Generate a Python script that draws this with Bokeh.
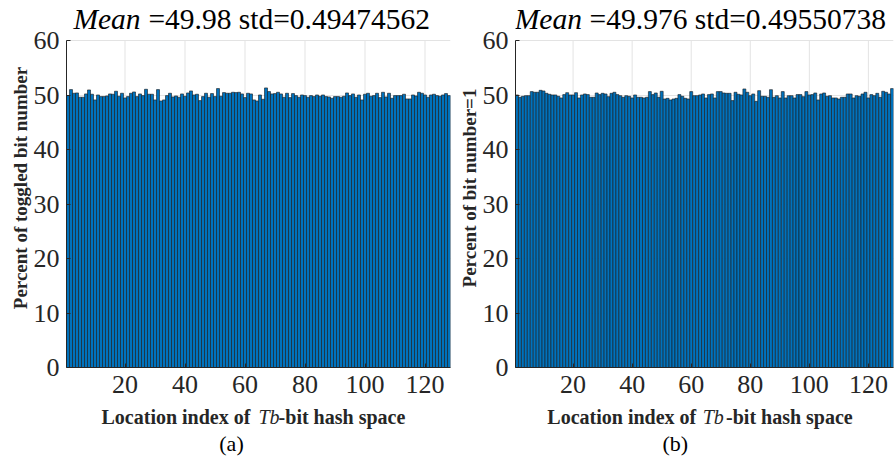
from bokeh.plotting import figure
from bokeh.layouts import row, column
from bokeh.models import Label, FixedTicker, Range1d
from bokeh.embed import file_html
from bokeh.resources import INLINE

# ---------------- data ----------------
location_index = list(range(1, 129))

toggled_pct_a = [
    49.89, 50.99, 50.32, 50.38, 49.59, 49.59, 50.20, 50.93, 50.14, 49.10,
    50.01, 49.71, 49.71, 49.83, 50.20, 50.14, 50.69, 49.77, 50.32, 49.46,
    49.71, 50.32, 50.56, 49.71, 50.20, 49.89, 51.05, 50.14, 50.14, 49.10,
    50.99, 48.91, 49.10, 49.89, 50.32, 49.65, 49.83, 49.59, 50.20, 49.77,
    50.38, 50.75,
    50.01, 50.14, 48.97, 49.71, 50.32, 49.59, 50.26, 49.71, 51.18, 49.77,
    50.44, 50.32, 50.32, 50.50, 50.44, 50.50, 50.20, 49.52, 50.32, 50.20,
    49.10, 48.91, 50.01, 49.22, 51.30, 50.63, 50.20, 50.26, 50.50, 50.20,
    49.59, 50.32, 49.52, 50.26, 49.89, 49.59, 50.01, 49.89, 49.59,
    49.89, 49.71, 50.01, 49.77,
    50.01, 49.71, 49.65, 49.40, 49.71, 49.71, 49.59, 49.77, 50.38, 49.89,
    50.20, 49.59, 50.01, 49.10, 50.14, 50.32, 49.77, 49.89, 50.32, 49.52,
    50.50, 49.65, 50.32, 49.40, 49.89, 49.89, 49.89, 50.14, 49.28, 49.28,
    50.01, 49.83, 50.50, 50.32, 50.01, 49.59, 50.01, 50.14, 49.89,
    49.77, 50.01, 50.26, 49.89,
]

bit_one_pct_b = [
    50.01, 49.58, 49.76, 49.88, 49.88, 50.62, 50.50, 50.50, 50.86, 50.74,
    50.31, 50.13, 50.01, 50.01, 49.76, 49.46, 50.07, 50.43, 50.01, 50.01,
    50.43, 49.46, 50.01, 50.19, 50.07, 49.58, 49.58, 50.37, 50.07, 50.31,
    50.19, 49.70, 50.31, 50.50, 50.07, 49.88, 49.58, 49.88, 49.76, 49.46,
    50.01, 49.58,
    49.58, 49.46, 49.58, 50.62, 50.07, 50.37, 49.58, 50.68, 49.27, 49.39,
    49.09, 49.27, 49.39, 50.07, 49.76, 49.39, 49.27, 50.62, 49.88, 49.88,
    50.01, 50.19, 49.46, 50.07, 50.19, 49.46, 50.62, 50.62, 50.37, 50.31,
    50.31, 48.97, 50.50, 50.13, 50.01, 51.11, 50.50, 49.88, 50.19, 48.84,
    50.80, 49.76, 49.76, 49.58,
    50.98, 49.58, 49.88, 49.46, 50.62, 49.46, 49.88, 49.88, 49.46,
    50.07, 50.07, 49.70, 50.62, 50.01, 50.07, 50.37, 49.09, 50.19, 50.37,
    49.76,
    49.88, 49.46, 49.46, 49.27, 49.58, 49.58, 50.19, 50.19, 49.46, 49.88,
    49.76, 50.19, 50.50, 49.46, 50.07, 49.88, 50.31, 49.58, 50.68, 50.50,
    50.19, 51.17,
]

x_ticks = [20, 40, 60, 80, 100, 120]
y_ticks = [0, 10, 20, 30, 40, 50, 60]
y_axis_max = 60

title_mean = "Mean"
title_a_rest = "=49.98 std=0.49474562"
title_b_rest = "=49.976 std=0.49550738"
ylabel_a = "Percent of toggled bit number"
ylabel_b = "Percent of bit number=1"
xlabel_head = "Location index of"
xlabel_var = "Tb"
xlabel_tail = "-bit hash space"
caption_a = "(a)"
caption_b = "(b)"

SERIF = "Liberation Serif"
BAR_BLUE = "#0072BD"
AX = "#262626"
GRID = "#e3e3e3"

MAIN_TOP = 8                # frame starts 8px below the page top
MAIN_BOT = 39               # x tick labels
MAIN_H = 406
BOT_H = 461 - MAIN_H
PX_PER_UNIT = 327 / 60.0    # 60 -> y=40, 0 -> y=367
FRAME_H = MAIN_H - MAIN_TOP - MAIN_BOT
Y_END = FRAME_H / PX_PER_UNIT   # frame extends above 60 to hold the title
TITLE_SIZE = "29.5px"


def txt(s, x, y, text, align, size, style="normal", color="black"):
    s.add_layout(Label(x=x, y=y, text=text, text_align=align,
                       text_baseline="middle", text_font=SERIF,
                       text_font_style=style, text_font_size=size,
                       text_color=color))


def strip(x_range, width, height):
    s = figure(width=width, height=height, output_backend="svg",
               toolbar_location=None, x_axis_type=None, y_axis_type=None,
               x_range=x_range, y_range=Range1d(height, 0),
               min_border=0)
    s.outline_line_color = None
    s.background_fill_color = "white"
    s.border_fill_color = "white"
    return s


def main_panel(vals, x_range, width, left, right, ylabel, rest, mean_x, rest_x):
    p = figure(width=width, height=MAIN_H, output_backend="svg",
               toolbar_location=None,
               x_range=x_range, y_range=Range1d(0, Y_END),
               min_border_left=left, min_border_right=right,
               min_border_top=MAIN_TOP, min_border_bottom=MAIN_BOT)
    p.outline_line_color = None
    p.background_fill_color = "white"
    p.border_fill_color = "white"

    # grid restricted to the 0..60 band
    p.xgrid.visible = False
    p.ygrid.grid_line_color = GRID
    p.ygrid.bounds = (0, y_axis_max)
    p.segment(x0=x_ticks, y0=[0] * len(x_ticks), x1=x_ticks,
              y1=[y_axis_max] * len(x_ticks), line_color=GRID, line_width=1,
              level="underlay")

    p.vbar(x=location_index, top=vals, bottom=0, width=1.0,
           fill_color=BAR_BLUE, line_color="#1a1a1a", line_width=0.6)

    p.xaxis.ticker = FixedTicker(ticks=x_ticks)
    p.yaxis.ticker = FixedTicker(ticks=y_ticks)
    p.yaxis.bounds = (0, y_axis_max)
    for ax in (p.xaxis[0], p.yaxis[0]):
        ax.axis_line_color = AX
        ax.major_tick_line_color = AX
        ax.major_tick_in = 4
        ax.major_tick_out = 0
        ax.minor_tick_line_color = None
        ax.major_label_text_font = SERIF
        ax.major_label_text_font_size = "26px"
        ax.major_label_text_color = AX
    p.xaxis.major_label_standoff = 8
    p.yaxis.major_label_standoff = 7
    p.yaxis.axis_label = ylabel
    p.yaxis.axis_label_text_font = SERIF
    p.yaxis.axis_label_text_font_style = "bold"
    p.yaxis.axis_label_text_font_size = "19px"
    p.yaxis.axis_label_text_color = AX
    p.yaxis.axis_label_standoff = 0

    # title inside the frame, above the 0..60 band
    y_title = (367 - 18.5) / PX_PER_UNIT
    txt(p, mean_x, y_title, title_mean, "right", TITLE_SIZE, "italic")
    txt(p, rest_x, y_title, rest, "left", TITLE_SIZE)
    return p


# ---- panel (a) ----
xr_a = Range1d(0.5, 128.5)
pa = main_panel(toggled_pct_a, xr_a, 455, 66, 5, ylabel_a, title_a_rest, 25.2, 27.8)
ba = strip(xr_a, 455, BOT_H)
txt(ba, 61.8, 10.5, xlabel_head, "right", "20px", "bold", AX)
txt(ba, 64.5, 10.5, xlabel_var, "left", "20px", "italic", AX)
txt(ba, 71.2, 10.5, xlabel_tail, "left", "20px", "bold", AX)
txt(ba, 55.5, 36.5, caption_a, "center", "22px")

# ---- panel (b) ----
xr_b = Range1d(0.5, 128.5)
pb = main_panel(bit_one_pct_b, xr_b, 440, 52, 2, ylabel_b, title_b_rest, 23.0, 25.6)
bb = strip(xr_b, 440, BOT_H)
txt(bb, 61.7, 10.5, xlabel_head, "right", "20px", "bold", AX)
txt(bb, 63.9, 10.5, xlabel_var, "left", "20px", "italic", AX)
txt(bb, 71.8, 10.5, xlabel_tail, "left", "20px", "bold", AX)
txt(bb, 54.6, 36.5, caption_b, "center", "22px")

layout = row(column(pa, ba, spacing=0), column(pb, bb, spacing=0), spacing=0)
open("out.html", "w").write(file_html(layout, INLINE))
